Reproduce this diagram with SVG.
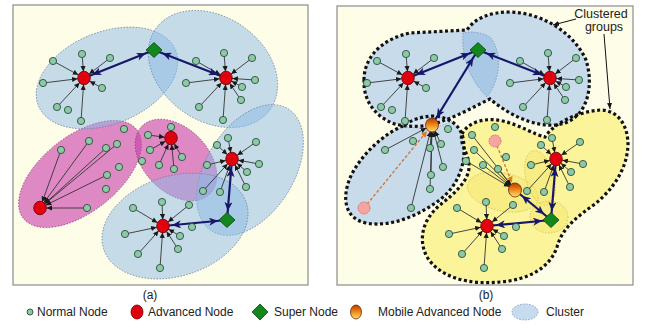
<svg xmlns="http://www.w3.org/2000/svg" width="647" height="332" viewBox="0 0 647 332">
<defs>
<style>
.frame{fill:#fefde8;stroke:#8c8c8c;stroke-width:1.2}
.cb{fill:#8cb9e6;fill-opacity:.5;stroke:#6a80a6;stroke-width:.8;stroke-dasharray:1.5 1.5}
.cp{fill:#c83caa;fill-opacity:.6;stroke:#8a3a7a;stroke-width:.8;stroke-dasharray:1.5 1.5}
.gb{fill:#c7dbeb}
.gy{fill:#fbf49a}
.go{fill:none;stroke:#111;stroke-width:3.2;stroke-dasharray:3 2.6}
.lb{fill:#a9c8e5;stroke:#6f8db0;stroke-width:.7;stroke-dasharray:1.5 1.5}
.lw{fill:#dae7f1;stroke:#7d9ab8;stroke-width:.7;stroke-dasharray:1.5 1.5}
.ly{fill:#f3e56a;fill-opacity:.45;stroke:#c9b54a;stroke-width:.7;stroke-dasharray:1.5 1.5}
.t{stroke:#333;stroke-width:.9;fill:none;marker-end:url(#ah)}
.nv{stroke:#16166a;stroke-width:2.2;fill:none;marker-start:url(#nh);marker-end:url(#nh)}
.od{stroke:#d2702a;stroke-width:1.3;stroke-dasharray:3 2;fill:none;marker-end:url(#oh)}
.k{stroke:#111;stroke-width:1;fill:none;marker-end:url(#ka)}
.nn{fill:#8ccaa6;stroke:#2d4d3d;stroke-width:.9}
.an{fill:#e0000e;stroke:#6a0000;stroke-width:.8}
.sn{fill:#12871c;stroke:#0a4410;stroke-width:.8}
.mn{fill:url(#mg);stroke:#6a2a00;stroke-width:.8}
.fp{fill:#f6a4a0;stroke:#d06060;stroke-width:.9;stroke-dasharray:1.5 1}
.lbl{font-family:"Liberation Sans",Arial,sans-serif;font-size:12px;fill:#222}
</style>
<marker id="ah" viewBox="0 0 12 6" refX="12" refY="3" markerWidth="12" markerHeight="6" markerUnits="userSpaceOnUse" orient="auto"><path d="M0,0.4 L5.5,3 L0,5.6 Z" fill="#1a1a1a"/></marker>
<marker id="nh" viewBox="0 0 18 8" refX="18" refY="4" markerWidth="18" markerHeight="8" markerUnits="userSpaceOnUse" orient="auto-start-reverse"><path d="M0,0 L9,4 L0,8 L2.5,4 Z" fill="#16166a"/></marker>
<marker id="oh" viewBox="0 0 14 6" refX="14" refY="3" markerWidth="14" markerHeight="6" markerUnits="userSpaceOnUse" orient="auto"><path d="M0,0 L6,3 L0,6 Z" fill="#e07a20"/></marker>
<marker id="ka" viewBox="0 0 6 6" refX="6" refY="3" markerWidth="6" markerHeight="6" markerUnits="userSpaceOnUse" orient="auto"><path d="M0,0.5 L6,3 L0,5.5 Z" fill="#111"/></marker>
<linearGradient id="mg" x1="0" y1="0" x2="0" y2="1"><stop offset="0" stop-color="#b83a00"/><stop offset=".5" stop-color="#f08a1a"/><stop offset="1" stop-color="#ffe27a"/></linearGradient>
<path id="pTop" d="M364,80 C364,55 385,38 410,33 L467,30 C475,18 490,12 510,12 C545,13 575,35 586,60 C594,85 588,115 565,123 C545,130 515,120 490,99 C475,106 460,115 445,120 C430,127 410,128 395,124 C375,117 363,100 364,80 Z"/>
<path id="pLL" d="M403,126 C385,133 360,155 350,178 C341,200 346,219 366,223 C392,228 422,214 442,198 C460,183 467,160 463,138 C460,125 450,118 435,116 C420,116 410,121 403,126 Z"/>
<path id="pY" d="M462,134 C468,122 485,117 503,121 C520,125 535,135 545,137 C555,122 578,112 600,110 C618,110 628,125 628,145 C627,170 612,190 595,204 C578,216 562,228 557,247 C550,268 528,280 500,282 C470,285 440,278 427,257 C418,240 422,220 440,205 C455,193 470,180 469,165 C468,152 459,143 462,134 Z"/>
</defs>

<g id="panel-a">
<rect class="frame" x="13" y="5" width="295" height="280"/>
<g id="clusters-a">
<ellipse class="cp" cx="80" cy="174" rx="72" ry="38" transform="rotate(-38 80 174)"/>
<ellipse class="cp" cx="176" cy="160" rx="48" ry="32" transform="rotate(45 176 160)"/>
<ellipse class="cb" cx="107" cy="78" rx="74" ry="46" transform="rotate(-22 107 78)"/>
<ellipse class="cb" cx="213" cy="69" rx="70" ry="52" transform="rotate(35 213 69)"/>
<ellipse class="cb" cx="250" cy="170" rx="72" ry="44" transform="rotate(-58 250 170)"/>
<ellipse class="cb" cx="175" cy="226" rx="75" ry="50" transform="rotate(-18 175 226)"/>
</g>
</g>

<g id="panel-b">
<rect class="frame" x="337" y="6" width="296" height="279"/>
<g id="groups-b">
<use href="#pY" class="gy"/>
<ellipse class="ly" cx="503" cy="192" rx="36" ry="19" transform="rotate(12 503 192)"/>
<ellipse class="ly" cx="540" cy="178" rx="14" ry="28" transform="rotate(-15 540 178)"/>
<ellipse class="ly" cx="549" cy="217" rx="19" ry="16"/>
<use href="#pLL" class="gb"/>
<use href="#pTop" class="gb"/>
<path class="lb" d="M463,33 C461,60 472,82 487,97 C500,80 503,55 491,38 C483,32 471,31 463,33 Z"/>
<path class="lw" d="M403,126 C415,118 440,114 452,121 C440,128 418,130 403,126 Z"/>
<use href="#pY" class="go"/>
<use href="#pLL" class="go"/>
<use href="#pTop" class="go"/>
</g>
</g>

<g id="connectors">
<!-- panel a thin -->
<line class="t" x1="82" y1="54" x2="84" y2="78"/>
<line class="t" x1="53" y1="61" x2="84" y2="78"/>
<line class="t" x1="110" y1="58" x2="84" y2="78"/>
<line class="t" x1="43" y1="83" x2="84" y2="78"/>
<line class="t" x1="102" y1="88" x2="84" y2="78"/>
<line class="t" x1="57" y1="107" x2="84" y2="78"/>
<line class="t" x1="81" y1="121" x2="84" y2="78"/>
<line class="t" x1="224" y1="53" x2="226" y2="78"/>
<line class="t" x1="196" y1="61" x2="226" y2="78"/>
<line class="t" x1="252" y1="58" x2="226" y2="78"/>
<line class="t" x1="186" y1="83" x2="226" y2="78"/>
<line class="t" x1="255" y1="80" x2="226" y2="78"/>
<line class="t" x1="242" y1="87" x2="226" y2="78"/>
<line class="t" x1="241" y1="100" x2="226" y2="78"/>
<line class="t" x1="199" y1="107" x2="226" y2="78"/>
<line class="t" x1="223" y1="120" x2="226" y2="78"/>
<line class="t" x1="61" y1="150" x2="40" y2="208"/>
<line class="t" x1="89" y1="141" x2="40" y2="208"/>
<line class="t" x1="106" y1="148" x2="40" y2="208"/>
<line class="t" x1="117" y1="144" x2="40" y2="208"/>
<line class="t" x1="107" y1="175" x2="40" y2="208"/>
<line class="t" x1="87" y1="208" x2="40" y2="208"/>
<line class="t" x1="148" y1="135" x2="171" y2="138"/>
<line class="t" x1="171" y1="127" x2="171" y2="138"/>
<line class="t" x1="150" y1="150" x2="171" y2="138"/>
<line class="t" x1="159" y1="165" x2="171" y2="138"/>
<line class="t" x1="174" y1="169" x2="171" y2="138"/>
<line class="t" x1="182" y1="157" x2="171" y2="138"/>
<line class="t" x1="217" y1="145" x2="232" y2="159"/>
<line class="t" x1="228" y1="138" x2="232" y2="159"/>
<line class="t" x1="256" y1="142" x2="232" y2="159"/>
<line class="t" x1="207" y1="165" x2="232" y2="159"/>
<line class="t" x1="259" y1="164" x2="232" y2="159"/>
<line class="t" x1="247" y1="172" x2="232" y2="159"/>
<line class="t" x1="246" y1="187" x2="232" y2="159"/>
<line class="t" x1="203" y1="191" x2="232" y2="159"/>
<line class="t" x1="220" y1="192" x2="232" y2="159"/>
<line class="t" x1="133" y1="208" x2="163" y2="226"/>
<line class="t" x1="162" y1="202" x2="163" y2="226"/>
<line class="t" x1="189" y1="205" x2="163" y2="226"/>
<line class="t" x1="125" y1="234" x2="163" y2="226"/>
<line class="t" x1="180" y1="236" x2="163" y2="226"/>
<line class="t" x1="178" y1="249" x2="163" y2="226"/>
<line class="t" x1="138" y1="254" x2="163" y2="226"/>
<line class="t" x1="160" y1="268" x2="163" y2="226"/>
<!-- panel a navy -->
<line class="nv" x1="154" y1="50" x2="84" y2="78"/>
<line class="nv" x1="154" y1="50" x2="226" y2="78"/>
<line class="nv" x1="232" y1="159" x2="227" y2="220"/>
<line class="nv" x1="227" y1="220" x2="163" y2="226"/>
<!-- panel b thin -->
<line class="t" x1="406" y1="54" x2="408" y2="78"/>
<line class="t" x1="377" y1="61" x2="408" y2="78"/>
<line class="t" x1="434" y1="58" x2="408" y2="78"/>
<line class="t" x1="367" y1="83" x2="408" y2="78"/>
<line class="t" x1="426" y1="88" x2="408" y2="78"/>
<line class="t" x1="381" y1="107" x2="408" y2="78"/>
<line class="t" x1="405" y1="121" x2="408" y2="78"/>
<line class="t" x1="548" y1="53" x2="550" y2="78"/>
<line class="t" x1="520" y1="61" x2="550" y2="78"/>
<line class="t" x1="576" y1="58" x2="550" y2="78"/>
<line class="t" x1="510" y1="83" x2="550" y2="78"/>
<line class="t" x1="579" y1="80" x2="550" y2="78"/>
<line class="t" x1="566" y1="87" x2="550" y2="78"/>
<line class="t" x1="565" y1="100" x2="550" y2="78"/>
<line class="t" x1="523" y1="107" x2="550" y2="78"/>
<line class="t" x1="547" y1="120" x2="550" y2="78"/>
<line class="t" x1="385" y1="150" x2="432" y2="125"/>
<line class="t" x1="430" y1="148" x2="432" y2="125"/>
<line class="t" x1="441" y1="144" x2="432" y2="125"/>
<line class="t" x1="443" y1="167" x2="432" y2="125"/>
<line class="t" x1="431" y1="175" x2="432" y2="125"/>
<line class="t" x1="430" y1="189" x2="432" y2="125"/>
<line class="t" x1="411" y1="208" x2="432" y2="125"/>
<line class="t" x1="472" y1="135" x2="515" y2="190"/>
<line class="t" x1="474" y1="150" x2="515" y2="190"/>
<line class="t" x1="466" y1="161" x2="515" y2="190"/>
<line class="t" x1="483" y1="165" x2="515" y2="190"/>
<line class="t" x1="498" y1="169" x2="515" y2="190"/>
<line class="t" x1="541" y1="145" x2="556" y2="159"/>
<line class="t" x1="552" y1="138" x2="556" y2="159"/>
<line class="t" x1="580" y1="142" x2="556" y2="159"/>
<line class="t" x1="531" y1="165" x2="556" y2="159"/>
<line class="t" x1="583" y1="164" x2="556" y2="159"/>
<line class="t" x1="571" y1="172" x2="556" y2="159"/>
<line class="t" x1="570" y1="187" x2="556" y2="159"/>
<line class="t" x1="527" y1="191" x2="556" y2="159"/>
<line class="t" x1="544" y1="192" x2="556" y2="159"/>
<line class="t" x1="457" y1="208" x2="487" y2="226"/>
<line class="t" x1="486" y1="202" x2="487" y2="226"/>
<line class="t" x1="513" y1="205" x2="487" y2="226"/>
<line class="t" x1="449" y1="234" x2="487" y2="226"/>
<line class="t" x1="504" y1="236" x2="487" y2="226"/>
<line class="t" x1="502" y1="249" x2="487" y2="226"/>
<line class="t" x1="462" y1="254" x2="487" y2="226"/>
<line class="t" x1="484" y1="268" x2="487" y2="226"/>
<!-- panel b orange moves -->
<line class="od" x1="364" y1="208" x2="432" y2="125"/>
<line class="od" x1="495" y1="141" x2="515" y2="190"/>
<!-- panel b navy -->
<line class="nv" x1="478" y1="50" x2="408" y2="78"/>
<line class="nv" x1="478" y1="50" x2="550" y2="78"/>
<line class="nv" x1="478" y1="50" x2="432" y2="125"/>
<line class="nv" x1="556" y1="159" x2="551" y2="220"/>
<line class="nv" x1="551" y1="220" x2="487" y2="226"/>
<line class="nv" x1="551" y1="220" x2="515" y2="190"/>
<!-- annotation -->
<line class="k" x1="576" y1="19" x2="553" y2="25"/>
<line class="k" x1="604" y1="34" x2="610" y2="109"/>
</g>

<g id="nodes-a">
<g id="a-tl-n1"><circle class="nn" cx="82" cy="54" r="3.6"/></g>
<g id="a-tl-n2"><circle class="nn" cx="53" cy="61" r="3.6"/></g>
<g id="a-tl-n3"><circle class="nn" cx="110" cy="58" r="3.6"/></g>
<g id="a-tl-n4"><circle class="nn" cx="43" cy="83" r="3.6"/></g>
<g id="a-tl-n5"><circle class="nn" cx="102" cy="88" r="3.6"/></g>
<g id="a-tl-n6"><circle class="nn" cx="57" cy="107" r="3.6"/></g>
<g id="a-tl-n7"><circle class="nn" cx="68" cy="110" r="3.6"/></g>
<g id="a-tl-n8"><circle class="nn" cx="81" cy="121" r="3.6"/></g>
<g id="a-tr-n1"><circle class="nn" cx="224" cy="53" r="3.6"/></g>
<g id="a-tr-n2"><circle class="nn" cx="196" cy="61" r="3.6"/></g>
<g id="a-tr-n3"><circle class="nn" cx="252" cy="58" r="3.6"/></g>
<g id="a-tr-n4"><circle class="nn" cx="186" cy="83" r="3.6"/></g>
<g id="a-tr-n5"><circle class="nn" cx="255" cy="80" r="3.6"/></g>
<g id="a-tr-n6"><circle class="nn" cx="242" cy="87" r="3.6"/></g>
<g id="a-tr-n7"><circle class="nn" cx="241" cy="100" r="3.6"/></g>
<g id="a-tr-n8"><circle class="nn" cx="199" cy="107" r="3.6"/></g>
<g id="a-tr-n9"><circle class="nn" cx="223" cy="120" r="3.6"/></g>
<g id="a-pb-n1"><circle class="nn" cx="61" cy="150" r="3.6"/></g>
<g id="a-pb-n2"><circle class="nn" cx="89" cy="141" r="3.6"/></g>
<g id="a-pb-n3"><circle class="nn" cx="106" cy="148" r="3.6"/></g>
<g id="a-pb-n4"><circle class="nn" cx="117" cy="144" r="3.6"/></g>
<g id="a-pb-n5"><circle class="nn" cx="124" cy="129" r="3.6"/></g>
<g id="a-pb-n6"><circle class="nn" cx="119" cy="167" r="3.6"/></g>
<g id="a-pb-n7"><circle class="nn" cx="107" cy="175" r="3.6"/></g>
<g id="a-pb-n8"><circle class="nn" cx="106" cy="189" r="3.6"/></g>
<g id="a-pb-n9"><circle class="nn" cx="87" cy="208" r="3.6"/></g>
<g id="a-ps-n1"><circle class="nn" cx="148" cy="135" r="3.6"/></g>
<g id="a-ps-n2"><circle class="nn" cx="171" cy="127" r="3.6"/></g>
<g id="a-ps-n3"><circle class="nn" cx="150" cy="150" r="3.6"/></g>
<g id="a-ps-n4"><circle class="nn" cx="159" cy="165" r="3.6"/></g>
<g id="a-ps-n5"><circle class="nn" cx="174" cy="169" r="3.6"/></g>
<g id="a-ps-n6"><circle class="nn" cx="182" cy="157" r="3.6"/></g>
<g id="a-ps-n7"><circle class="nn" cx="142" cy="161" r="3.6"/></g>
<g id="a-rm-n1"><circle class="nn" cx="217" cy="145" r="3.6"/></g>
<g id="a-rm-n2"><circle class="nn" cx="228" cy="138" r="3.6"/></g>
<g id="a-rm-n3"><circle class="nn" cx="256" cy="142" r="3.6"/></g>
<g id="a-rm-n4"><circle class="nn" cx="207" cy="165" r="3.6"/></g>
<g id="a-rm-n5"><circle class="nn" cx="259" cy="164" r="3.6"/></g>
<g id="a-rm-n6"><circle class="nn" cx="247" cy="172" r="3.6"/></g>
<g id="a-rm-n7"><circle class="nn" cx="246" cy="187" r="3.6"/></g>
<g id="a-rm-n8"><circle class="nn" cx="203" cy="191" r="3.6"/></g>
<g id="a-rm-n9"><circle class="nn" cx="220" cy="192" r="3.6"/></g>
<g id="a-bt-n1"><circle class="nn" cx="133" cy="208" r="3.6"/></g>
<g id="a-bt-n2"><circle class="nn" cx="162" cy="202" r="3.6"/></g>
<g id="a-bt-n3"><circle class="nn" cx="189" cy="205" r="3.6"/></g>
<g id="a-bt-n4"><circle class="nn" cx="125" cy="234" r="3.6"/></g>
<g id="a-bt-n5"><circle class="nn" cx="192" cy="227" r="3.6"/></g>
<g id="a-bt-n6"><circle class="nn" cx="180" cy="236" r="3.6"/></g>
<g id="a-bt-n7"><circle class="nn" cx="178" cy="249" r="3.6"/></g>
<g id="a-bt-n8"><circle class="nn" cx="138" cy="254" r="3.6"/></g>
<g id="a-bt-n9"><circle class="nn" cx="160" cy="268" r="3.6"/></g>
<g id="a-adv1"><ellipse class="an" cx="84" cy="78" rx="6.3" ry="6.8"/></g>
<g id="a-adv2"><ellipse class="an" cx="226" cy="78" rx="6.3" ry="6.8"/></g>
<g id="a-adv3"><ellipse class="an" cx="40" cy="208" rx="6.3" ry="6.8"/></g>
<g id="a-adv4"><ellipse class="an" cx="171" cy="138" rx="6.3" ry="6.8"/></g>
<g id="a-adv5"><ellipse class="an" cx="232" cy="159" rx="6.3" ry="6.8"/></g>
<g id="a-adv6"><ellipse class="an" cx="163" cy="226" rx="6.3" ry="6.8"/></g>
<g id="a-super1"><path class="sn" d="M154,42.5 L162,50 L154,57.5 L146,50 Z"/></g>
<g id="a-super2"><path class="sn" d="M227,212.5 L235,220 L227,227.5 L219,220 Z"/></g>
</g>

<g id="nodes-b">
<g id="b-tl-n1"><circle class="nn" cx="406" cy="54" r="3.6"/></g>
<g id="b-tl-n2"><circle class="nn" cx="377" cy="61" r="3.6"/></g>
<g id="b-tl-n3"><circle class="nn" cx="434" cy="58" r="3.6"/></g>
<g id="b-tl-n4"><circle class="nn" cx="367" cy="83" r="3.6"/></g>
<g id="b-tl-n5"><circle class="nn" cx="426" cy="88" r="3.6"/></g>
<g id="b-tl-n6"><circle class="nn" cx="381" cy="107" r="3.6"/></g>
<g id="b-tl-n7"><circle class="nn" cx="392" cy="110" r="3.6"/></g>
<g id="b-tl-n8"><circle class="nn" cx="405" cy="121" r="3.6"/></g>
<g id="b-tr-n1"><circle class="nn" cx="548" cy="53" r="3.6"/></g>
<g id="b-tr-n2"><circle class="nn" cx="520" cy="61" r="3.6"/></g>
<g id="b-tr-n3"><circle class="nn" cx="576" cy="58" r="3.6"/></g>
<g id="b-tr-n4"><circle class="nn" cx="510" cy="83" r="3.6"/></g>
<g id="b-tr-n5"><circle class="nn" cx="579" cy="80" r="3.6"/></g>
<g id="b-tr-n6"><circle class="nn" cx="566" cy="87" r="3.6"/></g>
<g id="b-tr-n7"><circle class="nn" cx="565" cy="100" r="3.6"/></g>
<g id="b-tr-n8"><circle class="nn" cx="523" cy="107" r="3.6"/></g>
<g id="b-tr-n9"><circle class="nn" cx="547" cy="120" r="3.6"/></g>
<g id="b-ll-n1"><circle class="nn" cx="385" cy="150" r="3.6"/></g>
<g id="b-ll-n2"><circle class="nn" cx="413" cy="141" r="3.6"/></g>
<g id="b-ll-n3"><circle class="nn" cx="430" cy="148" r="3.6"/></g>
<g id="b-ll-n4"><circle class="nn" cx="441" cy="144" r="3.6"/></g>
<g id="b-ll-n5"><circle class="nn" cx="448" cy="129" r="3.6"/></g>
<g id="b-ll-n6"><circle class="nn" cx="443" cy="167" r="3.6"/></g>
<g id="b-ll-n7"><circle class="nn" cx="431" cy="175" r="3.6"/></g>
<g id="b-ll-n8"><circle class="nn" cx="430" cy="189" r="3.6"/></g>
<g id="b-ll-n9"><circle class="nn" cx="411" cy="208" r="3.6"/></g>
<g id="b-md-n1"><circle class="nn" cx="472" cy="135" r="3.6"/></g>
<g id="b-md-n2"><circle class="nn" cx="495" cy="127" r="3.6"/></g>
<g id="b-md-n3"><circle class="nn" cx="474" cy="150" r="3.6"/></g>
<g id="b-md-n4"><circle class="nn" cx="483" cy="165" r="3.6"/></g>
<g id="b-md-n5"><circle class="nn" cx="498" cy="169" r="3.6"/></g>
<g id="b-md-n6"><circle class="nn" cx="506" cy="157" r="3.6"/></g>
<g id="b-md-n7"><circle class="nn" cx="466" cy="161" r="3.6"/></g>
<g id="b-rm-n1"><circle class="nn" cx="541" cy="145" r="3.6"/></g>
<g id="b-rm-n2"><circle class="nn" cx="552" cy="138" r="3.6"/></g>
<g id="b-rm-n3"><circle class="nn" cx="580" cy="142" r="3.6"/></g>
<g id="b-rm-n4"><circle class="nn" cx="531" cy="165" r="3.6"/></g>
<g id="b-rm-n5"><circle class="nn" cx="583" cy="164" r="3.6"/></g>
<g id="b-rm-n6"><circle class="nn" cx="571" cy="172" r="3.6"/></g>
<g id="b-rm-n7"><circle class="nn" cx="570" cy="187" r="3.6"/></g>
<g id="b-rm-n8"><circle class="nn" cx="527" cy="191" r="3.6"/></g>
<g id="b-rm-n9"><circle class="nn" cx="544" cy="192" r="3.6"/></g>
<g id="b-bt-n1"><circle class="nn" cx="457" cy="208" r="3.6"/></g>
<g id="b-bt-n2"><circle class="nn" cx="486" cy="202" r="3.6"/></g>
<g id="b-bt-n3"><circle class="nn" cx="513" cy="205" r="3.6"/></g>
<g id="b-bt-n4"><circle class="nn" cx="449" cy="234" r="3.6"/></g>
<g id="b-bt-n5"><circle class="nn" cx="516" cy="227" r="3.6"/></g>
<g id="b-bt-n6"><circle class="nn" cx="504" cy="236" r="3.6"/></g>
<g id="b-bt-n7"><circle class="nn" cx="502" cy="249" r="3.6"/></g>
<g id="b-bt-n8"><circle class="nn" cx="462" cy="254" r="3.6"/></g>
<g id="b-bt-n9"><circle class="nn" cx="484" cy="268" r="3.6"/></g>
<g id="b-old1"><circle class="fp" cx="364" cy="208" r="6"/></g>
<g id="b-old2"><circle class="fp" cx="495" cy="141" r="6"/></g>
<g id="b-adv1"><ellipse class="an" cx="408" cy="78" rx="6.3" ry="6.8"/></g>
<g id="b-adv2"><ellipse class="an" cx="550" cy="78" rx="6.3" ry="6.8"/></g>
<g id="b-adv5"><ellipse class="an" cx="556" cy="159" rx="6.3" ry="6.8"/></g>
<g id="b-adv6"><ellipse class="an" cx="487" cy="226" rx="6.3" ry="6.8"/></g>
<g id="b-mob1"><ellipse class="mn" cx="432" cy="125" rx="6.5" ry="7"/></g>
<g id="b-mob2"><ellipse class="mn" cx="515" cy="190" rx="6.5" ry="7"/></g>
<g id="b-super1"><path class="sn" d="M478,42.5 L486,50 L478,57.5 L470,50 Z"/></g>
<g id="b-super2"><path class="sn" d="M551,212.5 L559,220 L551,227.5 L543,220 Z"/></g>
</g>

<g id="labels">
<text class="lbl" x="150" y="299" text-anchor="middle">(a)</text>
<text class="lbl" x="486" y="299" text-anchor="middle">(b)</text>
<text class="lbl" x="601" y="18" text-anchor="middle" style="font-size:12.5px">Clustered</text>
<text class="lbl" x="604" y="31" text-anchor="middle" style="font-size:12.5px">groups</text>
</g>

<g id="legend">
<g id="leg-normal"><circle class="nn" cx="30" cy="312" r="3"/><text class="lbl" x="37" y="316">Normal Node</text></g>
<g id="leg-adv"><ellipse class="an" cx="137" cy="312" rx="6" ry="7"/><text class="lbl" x="148" y="316">Advanced Node</text></g>
<g id="leg-super"><path class="sn" d="M260,304 L268,312 L260,320 L252,312 Z"/><text class="lbl" x="274" y="316">Super Node</text></g>
<g id="leg-mobile"><ellipse class="mn" cx="356" cy="312" rx="5.5" ry="7"/><text class="lbl" x="378" y="316">Mobile Advanced Node</text></g>
<g id="leg-cluster"><ellipse cx="525" cy="312" rx="13" ry="8" fill="#c5dbee" stroke="#7a90b0" stroke-width=".8" stroke-dasharray="1.5 1.5"/><text class="lbl" x="546" y="316">Cluster</text></g>
</g>
</svg>
